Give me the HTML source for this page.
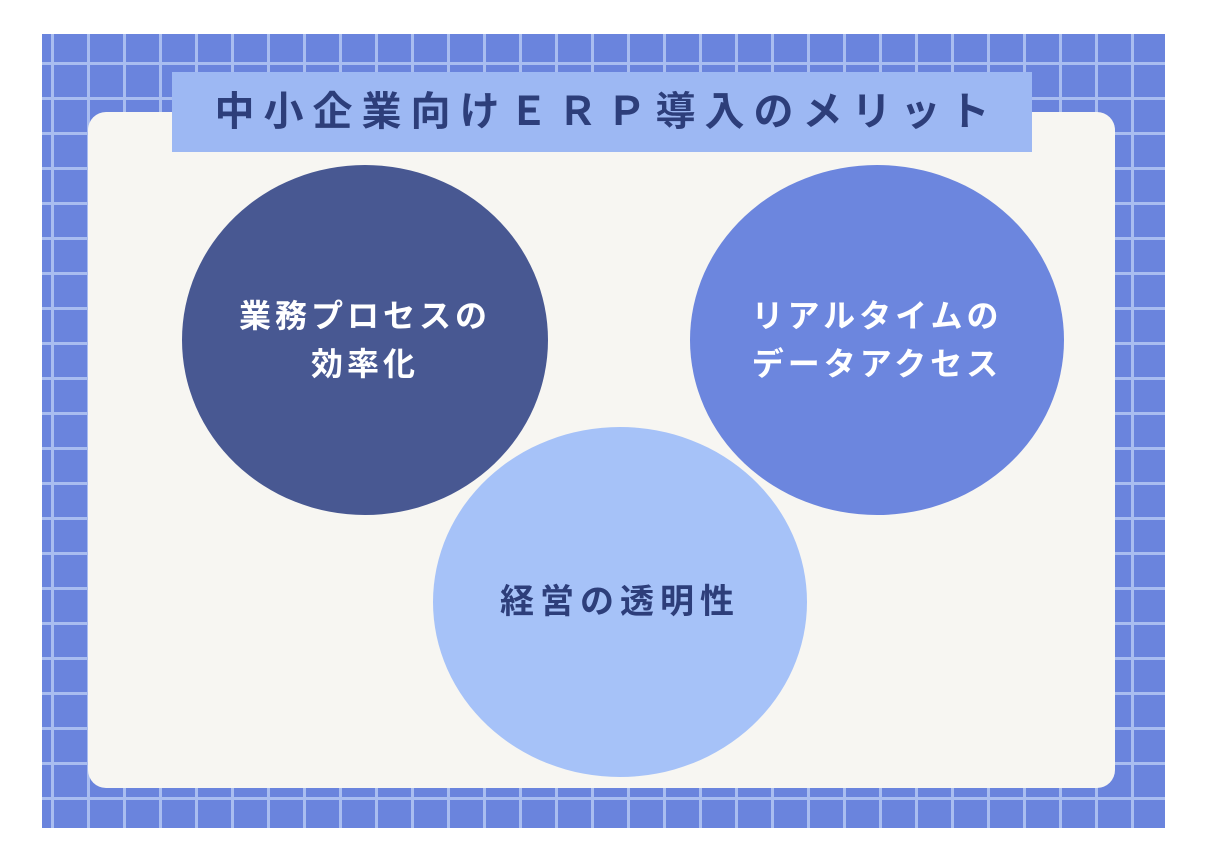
<!DOCTYPE html>
<html><head><meta charset="utf-8"><style>
body{margin:0;width:1207px;height:859px;background:#fff;position:relative;overflow:hidden;font-family:"Liberation Sans","Noto Sans CJK JP",sans-serif}
.bg{position:absolute;left:42px;top:34px;width:1123px;height:794px;background:#6a84dd;
background-image:linear-gradient(90deg,#a9bdf0 3px,transparent 3px),linear-gradient(#a9bdf0 3px,transparent 3px);
background-size:36px 35px;background-position:9px 28px}
.panel{position:absolute;left:88px;top:112px;width:1027px;height:676px;background:#f7f6f2;border-radius:18px}
.title{position:absolute;left:172px;top:72px;width:860px;height:80px;background:#9db8f3;color:#2d3e7a;font-size:40px;font-weight:bold;line-height:80px;text-align:center;letter-spacing:9px;text-indent:9px}
.c{position:absolute;border-radius:50%;display:flex;align-items:center;justify-content:center;text-align:center;font-size:32px;font-weight:bold;line-height:48px;letter-spacing:4px}
</style></head><body>
<div class="bg"></div>
<div class="panel"></div>
<div class="title">中小企業向けＥＲＰ導入のメリット</div>
<div class="c" style="left:182px;top:165px;width:366px;height:350px;background:#485892;color:#fff">業務プロセスの<br>効率化</div>
<div class="c" style="left:690px;top:165px;width:374px;height:350px;background:#6c86de;color:#fff">リアルタイムの<br>データアクセス</div>
<div class="c" style="left:433px;top:427px;width:374px;height:350px;background:#a6c2f8;color:#2d3e7a;font-size:34px;letter-spacing:6px">経営の透明性</div>
</body></html>
